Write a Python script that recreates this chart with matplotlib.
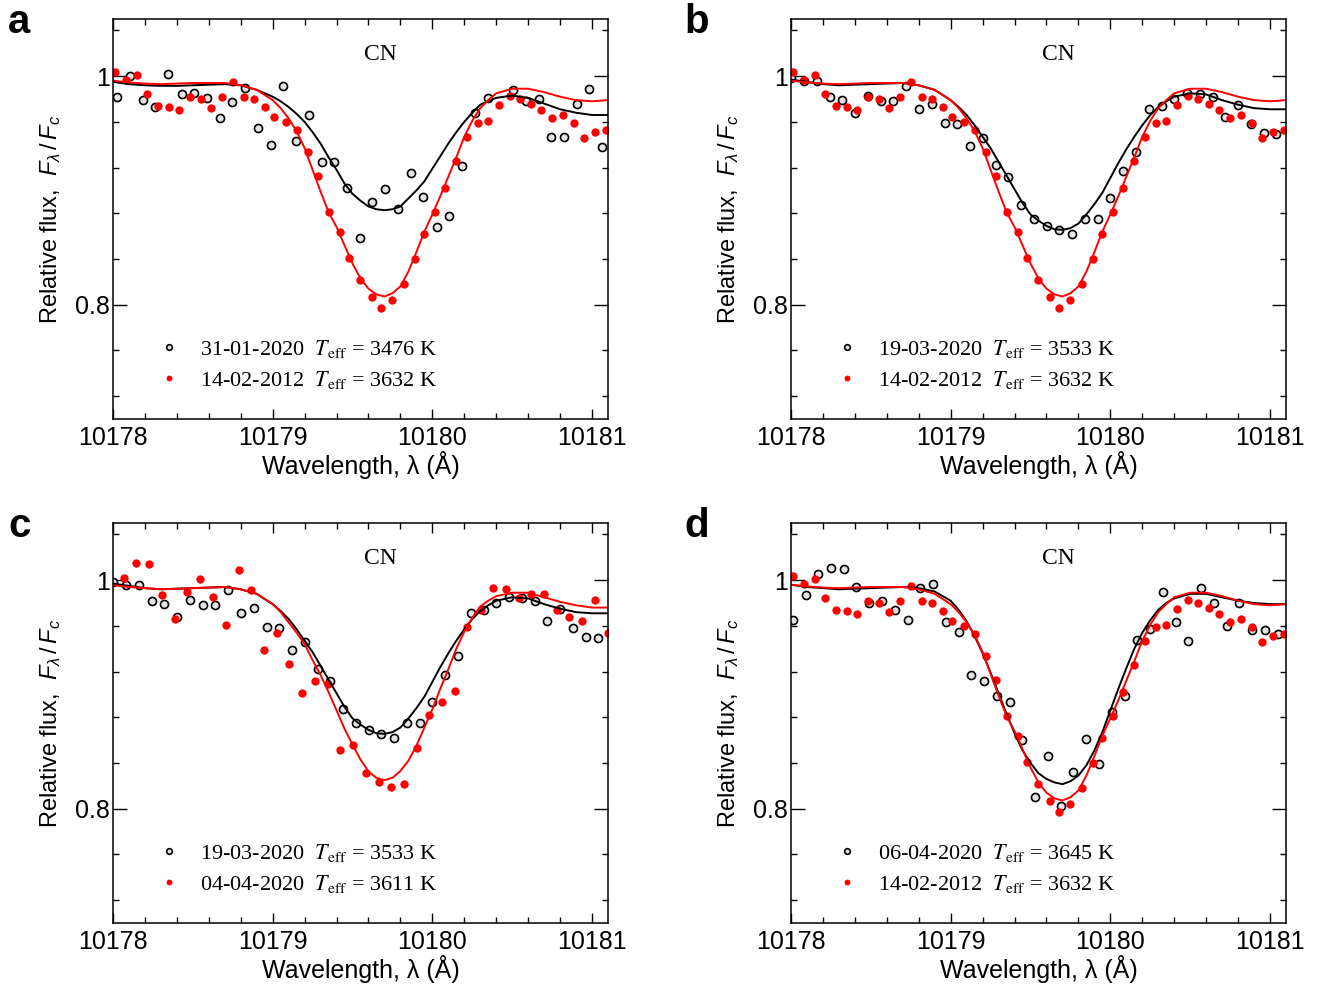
import matplotlib
matplotlib.use("Agg")
import matplotlib.pyplot as plt
from matplotlib.font_manager import FontProperties
from matplotlib.ticker import MultipleLocator, FuncFormatter

plt.rcParams["font.family"] = ["Liberation Sans", "DejaVu Sans"]
plt.rcParams["mathtext.fontset"] = "custom"
plt.rcParams["mathtext.rm"] = "Liberation Sans"
plt.rcParams["mathtext.it"] = "Liberation Sans:italic"
plt.rcParams["mathtext.bf"] = "Liberation Sans:bold"

# observed spectra (wavelength in Angstrom, relative flux)
obs_20200131_wl = [10178.026, 10178.106, 10178.185, 10178.265, 10178.347, 10178.429, 10178.508,
                   10178.587, 10178.667, 10178.746, 10178.825, 10178.907, 10178.987, 10179.066,
                   10179.146, 10179.228, 10179.307, 10179.386, 10179.466, 10179.548, 10179.624,
                   10179.704, 10179.783, 10179.865, 10179.944, 10180.026, 10180.106, 10180.185,
                   10180.265, 10180.347, 10180.505, 10180.585, 10180.665, 10180.743, 10180.825,
                   10180.905, 10180.984, 10181.063]
obs_20200131_fx = [0.982, 1.000, 0.979, 0.973, 1.002, 0.984, 0.985, 0.981, 0.963, 0.977, 0.990,
                   0.955, 0.940, 0.991, 0.943, 0.966, 0.925, 0.925, 0.902, 0.858, 0.890, 0.901,
                   0.884, 0.915, 0.894, 0.868, 0.878, 0.921, 0.968, 0.981, 0.988, 0.978, 0.980,
                   0.947, 0.947, 0.976, 0.989, 0.938]

obs_20120214_wl = [10178.011, 10178.079, 10178.153, 10178.212, 10178.280, 10178.352, 10178.413,
                   10178.481, 10178.550, 10178.611, 10178.683, 10178.751, 10178.820, 10178.881,
                   10178.952, 10179.011, 10179.082, 10179.151, 10179.222, 10179.283, 10179.352,
                   10179.421, 10179.481, 10179.550, 10179.619, 10179.680, 10179.749, 10179.820,
                   10179.889, 10179.950, 10180.019, 10180.079, 10180.148, 10180.220, 10180.288,
                   10180.349, 10180.418, 10180.489, 10180.550, 10180.619, 10180.680, 10180.749,
                   10180.820, 10180.889, 10180.950, 10181.021, 10181.090]
obs_20120214_fx = [1.004, 0.997, 1.001, 0.984, 0.974, 0.973, 0.970, 0.982, 0.980, 0.972, 0.982,
                   0.995, 0.982, 0.980, 0.973, 0.964, 0.960, 0.953, 0.934, 0.913, 0.881, 0.864,
                   0.841, 0.822, 0.807, 0.797, 0.804, 0.818, 0.840, 0.862, 0.881, 0.902, 0.926,
                   0.947, 0.959, 0.961, 0.975, 0.983, 0.980, 0.976, 0.970, 0.963, 0.966, 0.959,
                   0.946, 0.951, 0.953]

obs_20200319_wl = [10178.000, 10178.082, 10178.161, 10178.243, 10178.322, 10178.401, 10178.480,
                   10178.562, 10178.641, 10178.723, 10178.802, 10178.881, 10178.963, 10179.042,
                   10179.121, 10179.201, 10179.282, 10179.361, 10179.441, 10179.520, 10179.602,
                   10179.681, 10179.760, 10179.842, 10179.921, 10180.000, 10180.082, 10180.161,
                   10180.240, 10180.322, 10180.401, 10180.480, 10180.559, 10180.641, 10180.720,
                   10180.799, 10180.879, 10180.960, 10181.040]
obs_20200319_fx = [0.998, 0.996, 0.996, 0.982, 0.979, 0.968, 0.983, 0.978, 0.978, 0.991, 0.971,
                   0.976, 0.959, 0.958, 0.939, 0.946, 0.922, 0.912, 0.887, 0.875, 0.869, 0.865,
                   0.862, 0.875, 0.875, 0.893, 0.917, 0.934, 0.971, 0.974, 0.980, 0.985, 0.984,
                   0.982, 0.964, 0.975, 0.958, 0.950, 0.949]

obs_20200404_wl = [10178.066, 10178.146, 10178.225, 10178.304, 10178.386, 10178.466, 10178.545,
                   10178.624, 10178.706, 10178.786, 10178.865, 10178.944, 10179.024, 10179.103,
                   10179.183, 10179.265, 10179.344, 10179.423, 10179.503, 10179.582, 10179.664,
                   10179.743, 10179.823, 10179.902, 10179.981, 10180.061, 10180.140, 10180.220,
                   10180.302, 10180.381, 10180.460, 10180.540, 10180.619, 10180.698, 10180.778,
                   10180.857, 10180.939, 10181.019, 10181.098]
obs_20200404_fx = [1.0015, 1.015, 1.014, 0.987, 0.966, 0.990, 1.0006, 0.985, 0.961, 1.009, 0.991,
                   0.939, 0.954, 0.927, 0.901, 0.912, 0.909, 0.851, 0.856, 0.831, 0.823, 0.819,
                   0.822, 0.853, 0.882, 0.893, 0.903, 0.959, 0.974, 0.993, 0.992, 0.984, 0.988,
                   0.988, 0.974, 0.968, 0.964, 0.983, 0.954]

obs_20200406_wl = [10178.013, 10178.092, 10178.172, 10178.251, 10178.330, 10178.409, 10178.491,
                   10178.570, 10178.649, 10178.731, 10178.810, 10178.889, 10178.971, 10179.050,
                   10179.129, 10179.208, 10179.288, 10179.369, 10179.449, 10179.528, 10179.609,
                   10179.689, 10179.768, 10179.850, 10179.929, 10180.008, 10180.090, 10180.169,
                   10180.248, 10180.327, 10180.409, 10180.488, 10180.567, 10180.646, 10180.728,
                   10180.807, 10180.887, 10180.968, 10181.047]
obs_20200406_fx = [0.965, 0.987, 1.0055, 1.011, 1.010, 0.994, 0.980, 0.982, 0.974, 0.965, 0.993,
                   0.9965, 0.963, 0.955, 0.917, 0.912, 0.899, 0.893, 0.860, 0.810, 0.846, 0.802,
                   0.832, 0.861, 0.839, 0.885, 0.899, 0.948, 0.957, 0.990, 0.963, 0.947, 0.993,
                   0.980, 0.960, 0.980, 0.956, 0.956, 0.953]

# synthetic spectra (finer sampling across the line core)
model_wl = [10178.0, 10178.1, 10178.2, 10178.3, 10178.4, 10178.5, 10178.6, 10178.7, 10178.8,
            10178.9, 10179.0, 10179.05, 10179.1, 10179.15, 10179.2, 10179.25, 10179.3, 10179.35,
            10179.4, 10179.45, 10179.5, 10179.55, 10179.6, 10179.65, 10179.7, 10179.75, 10179.8,
            10179.85, 10179.9, 10179.95, 10180.0, 10180.05, 10180.1, 10180.15, 10180.2, 10180.25,
            10180.3, 10180.35, 10180.4, 10180.5, 10180.6, 10180.7, 10180.8, 10180.9, 10181.0,
            10181.1]
model_3476 = [0.995, 0.993, 0.992, 0.9915, 0.9915, 0.992, 0.9925, 0.993, 0.992, 0.988,
              0.982, 0.978, 0.973, 0.967, 0.960, 0.951, 0.941, 0.929, 0.918, 0.906, 0.897,
              0.891, 0.886, 0.8835, 0.8827, 0.8835, 0.886, 0.893, 0.900, 0.908, 0.919, 0.930,
              0.941, 0.951, 0.960, 0.968, 0.975, 0.978, 0.981,
              0.983, 0.981, 0.976, 0.971, 0.968, 0.966, 0.966]
model_3533 = [0.997, 0.995, 0.993, 0.992, 0.9925, 0.993, 0.9935, 0.994, 0.992, 0.988,
              0.979, 0.973, 0.966, 0.957, 0.947, 0.937, 0.925, 0.913, 0.901, 0.889, 0.879,
              0.8735, 0.869, 0.866, 0.8655, 0.867, 0.871, 0.879, 0.888, 0.898, 0.911, 0.924,
              0.936, 0.947, 0.957, 0.966, 0.973, 0.978, 0.982,
              0.985, 0.984, 0.979, 0.975, 0.972, 0.971, 0.971]
model_3611 = [0.9956, 0.994, 0.993, 0.992, 0.9925, 0.993, 0.9935, 0.994, 0.992, 0.988,
              0.979, 0.972, 0.963, 0.954, 0.944, 0.930, 0.917, 0.902, 0.886, 0.870, 0.856,
              0.843, 0.8325, 0.827, 0.825, 0.827, 0.833, 0.842, 0.855, 0.871, 0.887, 0.905,
              0.922, 0.940, 0.955, 0.967, 0.977, 0.982, 0.986,
              0.989, 0.989, 0.985, 0.981, 0.978, 0.976, 0.976]
model_3632 = [0.996, 0.9945, 0.9935, 0.993, 0.9935, 0.994, 0.994, 0.994, 0.992, 0.988,
              0.979, 0.972, 0.963, 0.952, 0.937, 0.918, 0.899, 0.881, 0.868, 0.852, 0.836,
              0.823, 0.814, 0.809, 0.8072, 0.810, 0.816, 0.829, 0.846, 0.864, 0.879, 0.895,
              0.912, 0.929, 0.947, 0.961, 0.972, 0.979, 0.985,
              0.989, 0.989, 0.986, 0.982, 0.979, 0.978, 0.979]
model_3645 = [0.996, 0.994, 0.993, 0.992, 0.9925, 0.993, 0.9935, 0.994, 0.993, 0.990,
              0.982, 0.974, 0.964, 0.951, 0.936, 0.919, 0.901, 0.883, 0.866, 0.851, 0.840,
              0.831, 0.826, 0.823, 0.8215, 0.824, 0.829, 0.838, 0.851, 0.867, 0.886, 0.905,
              0.923, 0.940, 0.954, 0.965, 0.974, 0.980, 0.984,
              0.988, 0.988, 0.985, 0.982, 0.980, 0.979, 0.979]

panel_letters = ["a", "b", "c", "d"]
black_labels = ["31-01-2020  $T_{\\rm eff}$ = 3476 K", "19-03-2020  $T_{\\rm eff}$ = 3533 K",
                "19-03-2020  $T_{\\rm eff}$ = 3533 K", "06-04-2020  $T_{\\rm eff}$ = 3645 K"]
red_labels = ["14-02-2012  $T_{\\rm eff}$ = 3632 K", "14-02-2012  $T_{\\rm eff}$ = 3632 K",
              "04-04-2020  $T_{\\rm eff}$ = 3611 K", "14-02-2012  $T_{\\rm eff}$ = 3632 K"]

panels = [
    ((obs_20200131_wl, obs_20200131_fx), (obs_20120214_wl, obs_20120214_fx), model_3476, model_3632),
    ((obs_20200319_wl, obs_20200319_fx), (obs_20120214_wl, obs_20120214_fx), model_3533, model_3632),
    ((obs_20200319_wl, obs_20200319_fx), (obs_20200404_wl, obs_20200404_fx), model_3533, model_3611),
    ((obs_20200406_wl, obs_20200406_fx), (obs_20120214_wl, obs_20120214_fx), model_3645, model_3632),
]


def draw_panel(ax, black_obs, red_obs, black_fit, red_fit, black_label, red_label):
    hb, = ax.plot(black_obs[0], black_obs[1], ls="none", marker="o", ms=5.8,
                  mfc="#e4e4e4", mec="black", mew=1.2, label=black_label)
    hr, = ax.plot(red_obs[0], red_obs[1], ls="none", marker="o", ms=6.0,
                  mfc="red", mec="red", mew=0, label=red_label)
    ax.plot(model_wl, black_fit, color="black", lw=1.4)
    ax.plot(model_wl, red_fit, color="red", lw=1.4)

    ax.set_xlim(10178.0, 10181.1)
    ax.set_ylim(0.70, 1.05)
    ax.xaxis.set_major_locator(MultipleLocator(1))
    ax.xaxis.set_minor_locator(MultipleLocator(0.2))
    ax.yaxis.set_major_locator(MultipleLocator(0.2))
    ax.yaxis.set_minor_locator(MultipleLocator(0.04))
    ax.xaxis.set_major_formatter(FuncFormatter(lambda v, p: "%d" % round(v)))
    ax.yaxis.set_major_formatter(FuncFormatter(lambda v, p: "%g" % round(v, 2)))
    ax.tick_params(which="both", direction="in", top=True, right=True, width=1.0,
                   labelsize=18)
    ax.tick_params(axis="x", which="major", length=7, pad=5)
    ax.tick_params(axis="y", which="major", length=10, pad=2)
    ax.tick_params(which="minor", length=4)
    for s in ax.spines.values():
        s.set_linewidth(1.1)

    ax.set_xlabel("Wavelength, λ (Å)", fontsize=18, labelpad=1)
    ax.set_ylabel("Relative flux,  $F_\\lambda\\,/\\,F_c$", fontsize=17, labelpad=9)
    ax.text(0.54, 0.8975, "CN", transform=ax.transAxes, ha="center", va="baseline",
            fontsize=17, family="Liberation Serif")

    prop = FontProperties(family="Liberation Serif", size=16, math_fontfamily="stix")
    ax.legend(handles=[hb, hr], loc="lower left", bbox_to_anchor=(0.081, 0.06),
              frameon=False, prop=prop, handlelength=1.0, handletextpad=0.9,
              labelspacing=0.38, borderaxespad=0, borderpad=0.2, markerscale=0.7)


fig = plt.figure(figsize=(13.17, 9.86), dpi=100)
W, H = 1317, 986
ax_w, ax_h = 495 / W, 400 / H
lefts = [113 / W, 791 / W, 113 / W, 791 / W]
bottoms = [1 - 419 / H, 1 - 419 / H, 1 - 923 / H, 1 - 923 / H]

for i, (black_obs, red_obs, black_fit, red_fit) in enumerate(panels):
    ax = fig.add_axes([lefts[i], bottoms[i], ax_w, ax_h])
    draw_panel(ax, black_obs, red_obs, black_fit, red_fit, black_labels[i], red_labels[i])

letter_x = [8 / W, 684 / W, 8 / W, 684 / W]
letter_y = [1 - 33 / H, 1 - 33 / H, 1 - 537 / H, 1 - 537 / H]
for i, letter in enumerate(panel_letters):
    fig.text(letter_x[i], letter_y[i], letter, fontsize=29, fontweight="bold",
             va="baseline", ha="left")

fig.savefig("out.png", dpi=100)
